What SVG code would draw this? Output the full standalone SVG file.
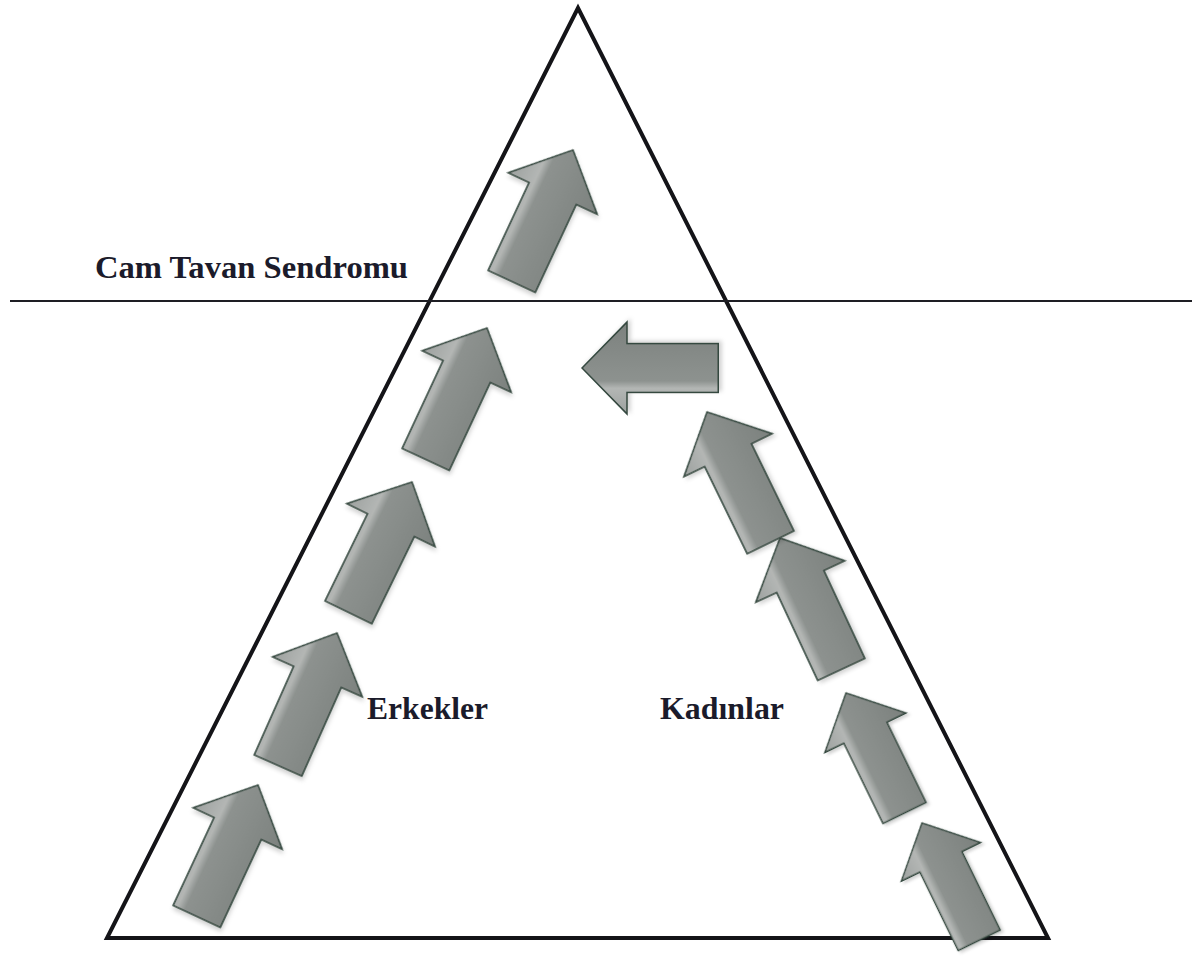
<svg xmlns="http://www.w3.org/2000/svg" width="1192" height="964" viewBox="0 0 1192 964">
  <style>
    .label { font-family: "Liberation Serif", "Times New Roman", serif; font-weight: bold; fill: #1b1b2b; }
    .arrow { fill: url(#arrowFill); stroke: #34483f; stroke-width: 1.6; stroke-linejoin: miter; filter: url(#soft); }
    .edge { fill: none; stroke: #141418; stroke-width: 4; stroke-linejoin: miter; }
  </style>
  <defs>
    <linearGradient id="arrowFill" x1="0" y1="0" x2="1" y2="0">
      <stop offset="0" stop-color="#9da19f"/>
      <stop offset="0.28" stop-color="#b3b6b4"/>
      <stop offset="0.36" stop-color="#8d928f"/>
      <stop offset="1" stop-color="#7c817e"/>
    </linearGradient>
    <filter id="soft" x="-20%" y="-20%" width="140%" height="140%">
      <feDropShadow dx="2" dy="3" stdDeviation="2" flood-color="#000000" flood-opacity="0.18"/>
    </filter>
    <path id="arrowShape" d="M0,0 L49,48 L26,48 L26,145 L-26,145 L-26,48 L-49,48 Z"/>
  </defs>
  <rect width="1192" height="964" fill="#ffffff"/>

  <g id="connectors">
    <polygon id="pyramid" class="edge" points="578,8 107,938 1048,938"/>
    <line id="ceiling" x1="10" y1="301" x2="1192" y2="301" stroke="#1e1e24" stroke-width="2"/>
  </g>

  <g id="label-ceiling"><text class="label" x="95" y="278" font-size="31" textLength="313" lengthAdjust="spacingAndGlyphs">Cam Tavan Sendromu</text></g>
  <g id="label-men"><text class="label" x="367" y="719" font-size="31" textLength="121" lengthAdjust="spacingAndGlyphs">Erkekler</text></g>
  <g id="label-women"><text class="label" x="660" y="719" font-size="31" textLength="124" lengthAdjust="spacingAndGlyphs">Kadınlar</text></g>

  <g id="men-arrow-1"><use href="#arrowShape" class="arrow" transform="translate(258,785) rotate(25)"/></g>
  <g id="men-arrow-2"><use href="#arrowShape" class="arrow" transform="translate(337,633) rotate(24)"/></g>
  <g id="men-arrow-3"><use href="#arrowShape" class="arrow" transform="translate(412,482) rotate(26)"/></g>
  <g id="men-arrow-4"><use href="#arrowShape" class="arrow" transform="translate(487,328) rotate(25)"/></g>
  <g id="men-arrow-5"><use href="#arrowShape" class="arrow" transform="translate(573,150) rotate(25)"/></g>

  <g id="women-arrow-1"><use href="#arrowShape" class="arrow" transform="translate(922,823) rotate(-26) scale(0.9)"/></g>
  <g id="women-arrow-2"><use href="#arrowShape" class="arrow" transform="translate(846,693) rotate(-26) scale(0.92)"/></g>
  <g id="women-arrow-3"><use href="#arrowShape" class="arrow" transform="translate(780,538) rotate(-25)"/></g>
  <g id="women-arrow-4"><use href="#arrowShape" class="arrow" transform="translate(707,412) rotate(-26)"/></g>
  <g id="women-arrow-blocked"><use href="#arrowShape" class="arrow" transform="translate(582,368) rotate(-90) scale(0.94)"/></g>
</svg>
